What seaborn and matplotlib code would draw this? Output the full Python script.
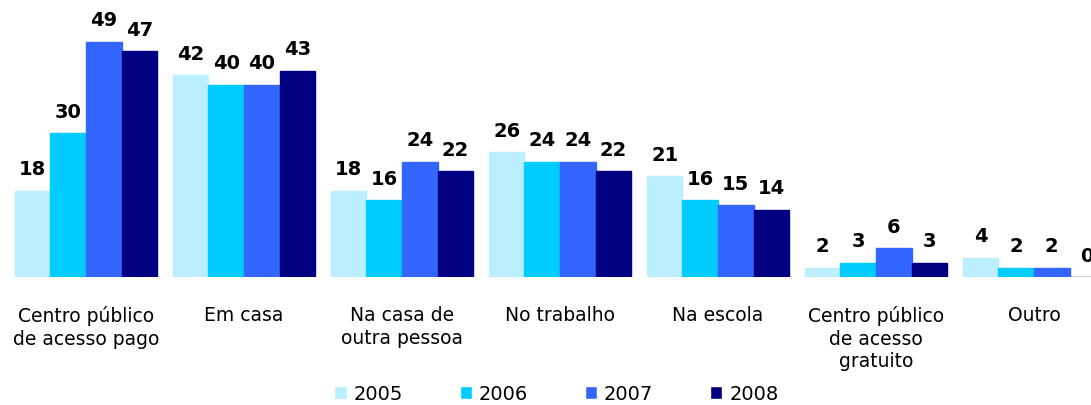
import matplotlib
matplotlib.use('Agg')
import matplotlib.pyplot as plt
import seaborn as sns
import pandas as pd

# Local de acesso à internet, por ano (%)
categories = ['Centro público\nde acesso pago', 'Em casa', 'Na casa de\noutra pessoa',
              'No trabalho', 'Na escola', 'Centro público\nde acesso\ngratuito', 'Outro']
years = ['2005', '2006', '2007', '2008']
v2005 = [18, 42, 18, 26, 21, 2, 4]
v2006 = [30, 40, 16, 24, 16, 3, 2]
v2007 = [49, 40, 24, 24, 15, 6, 2]
v2008 = [47, 43, 22, 22, 14, 3, 0]
colors = ['#BBEEFF', '#00CCFF', '#3366FF', '#000080']

rows = []
for year, vals in zip(years, [v2005, v2006, v2007, v2008]):
    for cat, v in zip(categories, vals):
        rows.append({'local': cat, 'ano': year, 'valor': v})
df = pd.DataFrame(rows)

sns.set_style('white')
plt.rcParams['font.family'] = ['DejaVu Sans']
plt.rcParams['text.color'] = 'black'
plt.rcParams['xtick.color'] = 'black'

fig = plt.figure(figsize=(10.91, 4.06), dpi=100)
ax = fig.add_axes([0, 0.315, 1, 0.685])

sns.barplot(data=df, x='local', y='valor', hue='ano', palette=colors,
            width=0.9, saturation=1, ax=ax, legend=True)

for cont, col in zip(ax.containers, colors):
    for patch in cont:
        patch.set_edgecolor(col)
        patch.set_linewidth(1)
    ax.bar_label(cont, fmt='%d', padding=9, fontsize=14, fontweight='bold',
                 color='black')

ax.set_xlim(-0.544, 6.361)
ax.set_ylim(0, 57.9)
ax.set_xlabel('')
ax.set_ylabel('')
ax.set_yticks([])
ax.tick_params(axis='x', length=0, labelsize=13.5, pad=20, labelcolor='black')
for lab in ax.get_xticklabels():
    lab.set_linespacing(1.25)
    lab.set_verticalalignment('top')
sns.despine(ax=ax, left=True, bottom=True)

leg = ax.legend(loc='lower center', bbox_to_anchor=(0.51, -0.46), ncol=4,
                frameon=False, fontsize=14, handlelength=0.65, handleheight=0.65,
                handletextpad=0.35, columnspacing=2.9, borderaxespad=0,
                borderpad=0.1)
for t in leg.get_texts():
    t.set_color('black')

fig.savefig('out.png', dpi=100)
